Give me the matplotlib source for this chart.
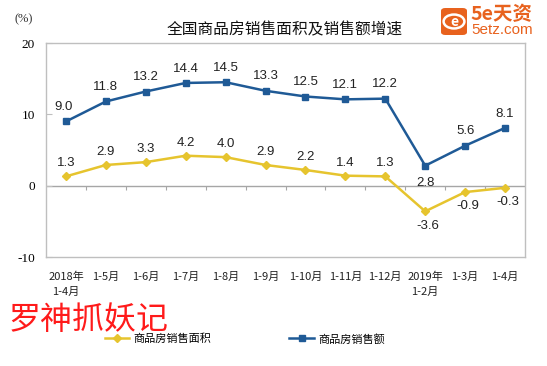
import numpy as np
import matplotlib
matplotlib.use("Agg")
from matplotlib import pyplot as plt
from matplotlib.patches import FancyBboxPatch, Circle

plt.rcParams["font.family"] = ["Noto Sans CJK SC", "DejaVu Sans"]

categories = ["2018年\n1-4月", "1-5月", "1-6月", "1-7月", "1-8月", "1-9月",
              "1-10月", "1-11月", "1-12月", "2019年\n1-2月", "1-3月", "1-4月"]
area_growth = [1.3, 2.9, 3.3, 4.2, 4.0, 2.9, 2.2, 1.4, 1.3, -3.6, -0.9, -0.3]
sales_growth = [9.0, 11.8, 13.2, 14.4, 14.5, 13.3, 12.5, 12.1, 12.2, 2.8, 5.6, 8.1]
y_ticks = [-10, 0, 10, 20]

BLUE = "#1F5A96"
YELLOW = "#E6C42E"
FRAME = "#BFBFBF"

fig = plt.figure(figsize=(5.47, 3.66), dpi=100)
ax = fig.add_axes([46 / 547, 1 - 257 / 366, 479 / 547, 214 / 366])

x = np.arange(len(categories))
l1, = ax.plot(x, area_growth, color=YELLOW, lw=1.8, marker="D", ms=4.5,
              mfc=YELLOW, mec=YELLOW)
l2, = ax.plot(x, sales_growth, color=BLUE, lw=1.8, marker="s", ms=4.5,
              mfc=BLUE, mec=BLUE)

# data labels
num_font = ["Liberation Sans", "DejaVu Sans"]
for i, v in enumerate(sales_growth):
    if i == 9:
        ax.annotate(f"{v:.1f}", (i, v), xytext=(0, -8), textcoords="offset points",
                    ha="center", va="top", fontsize=9.5, family=num_font, color="#222222")
    else:
        ax.annotate(f"{v:.1f}", (i, v), xytext=(-2 if i == 0 else 0, 6),
                    textcoords="offset points", ha="center", va="bottom",
                    fontsize=9.5, family=num_font, color="#222222")
for i, v in enumerate(area_growth):
    if v < 0:
        ax.annotate(f"{v:.1f}", (i, v), xytext=(2, -6), textcoords="offset points",
                    ha="center", va="top", fontsize=9.5, family=num_font, color="#222222")
    else:
        ax.annotate(f"{v:.1f}", (i, v), xytext=(0, 5), textcoords="offset points",
                    ha="center", va="bottom", fontsize=9.5, family=num_font, color="#222222")

ax.set_xlim(-0.5, len(categories) - 0.5)
ax.set_ylim(-10, 20)
ax.set_yticks(y_ticks)
ax.set_yticklabels([str(t) for t in y_ticks], family=["Liberation Serif", "DejaVu Serif"],
                   fontsize=9.5)
ax.tick_params(axis="y", direction="in", length=4, pad=8, color=FRAME)
ax.set_xticks([])
for s in ax.spines.values():
    s.set_color(FRAME)
    s.set_linewidth(1.0)

# zero line with category separators
ax.axhline(0, color="#A6A6A6", lw=1.0, zorder=1)
ax.vlines(x[:-1] + 0.5, -0.6, 0, color="#A6A6A6", lw=0.8, zorder=1)

# category labels under the frame
trans = ax.get_xaxis_transform()
for i, c in enumerate(categories):
    ax.text(i, -0.07, c, transform=trans, ha="center", va="top", fontsize=8,
            linespacing=1.5, color="#222222")

fig.text(24 / 547, 1 - 19 / 366, "(%)", ha="center", va="center", fontsize=9,
         family=["Liberation Serif", "DejaVu Serif"], color="#333333")
fig.text(285 / 547, 1 - 30 / 366, "全国商品房销售面积及销售额增速", ha="center",
         va="center", fontsize=11.3, color="#111111")

fig.legend((l1, l2), ("商品房销售面积", "商品房销售额"), loc="center",
           bbox_to_anchor=(245 / 547, 1 - 339 / 366), ncol=2, frameon=False,
           fontsize=8, handlelength=2.2, columnspacing=7, handletextpad=0.4)

# watermark
fig.text(9 / 547, 1 - 320 / 366, "罗神抓妖记", ha="left", va="center",
         fontsize=23, color="#FF1A1A")

# logo
ORANGE = "#E8621E"
fig.patches.append(FancyBboxPatch((441 / 547, 1 - 35 / 366), 26 / 547, 27 / 366,
                                  boxstyle="round,pad=0,rounding_size=0.008",
                                  transform=fig.transFigure, fc=ORANGE, ec="none"))
fig.patches.append(Circle((454 / 547, 1 - 21.5 / 366), 0.019, transform=fig.transFigure,
                          fc="none", ec="white", lw=1.8))
fig.text(454 / 547, 1 - 22 / 366, "e", ha="center", va="center", fontsize=10,
         color="white", fontweight="bold")
fig.text(470 / 547, 1 - 15 / 366, "5e天资", ha="left", va="center", fontsize=14,
         color=ORANGE, fontweight="bold")
fig.text(471 / 547, 1 - 30 / 366, "5etz.com", ha="left", va="center", fontsize=11,
         color=ORANGE, family=["Liberation Sans", "DejaVu Sans"])

fig.savefig("out.png", dpi=100)
